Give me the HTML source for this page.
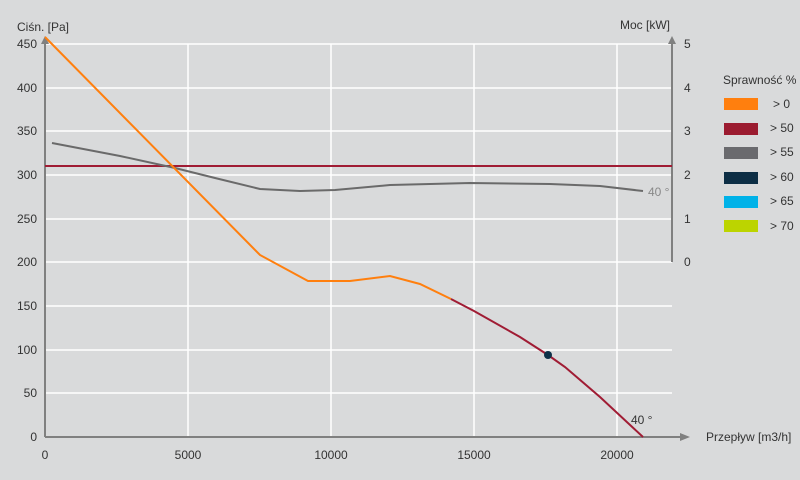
<!DOCTYPE html>
<html><head><meta charset="utf-8"><style>
body{margin:0;background:#d9d9d9;}
svg{display:block;font-family:"Liberation Sans",sans-serif;}
</style></head><body>
<svg width="800" height="480" viewBox="0 0 800 480">
<rect width="800" height="480" fill="#d9dadb"/>
<g stroke="#ffffff" stroke-width="1.5">
<line x1="45" y1="44" x2="672" y2="44"/>
<line x1="45" y1="88" x2="672" y2="88"/>
<line x1="45" y1="131" x2="672" y2="131"/>
<line x1="45" y1="175" x2="672" y2="175"/>
<line x1="45" y1="219" x2="672" y2="219"/>
<line x1="45" y1="262" x2="672" y2="262"/>
<line x1="45" y1="306" x2="672" y2="306"/>
<line x1="45" y1="350" x2="672" y2="350"/>
<line x1="45" y1="393" x2="672" y2="393"/>
<line x1="188" y1="44" x2="188" y2="437"/>
<line x1="331" y1="44" x2="331" y2="437"/>
<line x1="474" y1="44" x2="474" y2="437"/>
<line x1="617" y1="44" x2="617" y2="437"/>
</g>
<g stroke="#808080" stroke-width="2" fill="#808080">
<line x1="45" y1="437" x2="45" y2="42"/>
<polygon points="41,44 49,44 45,36" stroke="none"/>
<line x1="672" y1="262" x2="672" y2="42"/>
<polygon points="668,44 676,44 672,36" stroke="none"/>
<line x1="45" y1="437" x2="682" y2="437"/>
<polygon points="680,433 680,441 690,437" stroke="none"/>
</g>
<g font-size="12" fill="#333" text-anchor="end">
<text x="37" y="48">450</text><text x="37" y="92">400</text><text x="37" y="135">350</text>
<text x="37" y="179">300</text><text x="37" y="223">250</text><text x="37" y="266">200</text>
<text x="37" y="310">150</text><text x="37" y="354">100</text><text x="37" y="397">50</text>
<text x="37" y="441">0</text>
</g>
<g font-size="12" fill="#333">
<text x="684" y="48">5</text><text x="684" y="92">4</text><text x="684" y="135">3</text>
<text x="684" y="179">2</text><text x="684" y="223">1</text><text x="684" y="266">0</text>
</g>
<g font-size="12" fill="#333" text-anchor="middle">
<text x="45" y="459">0</text><text x="188" y="459">5000</text><text x="331" y="459">10000</text>
<text x="474" y="459">15000</text><text x="617" y="459">20000</text>
</g>
<text x="17" y="31" font-size="12" fill="#333">Ciśn. [Pa]</text>
<text x="620" y="29" font-size="12" fill="#333">Moc [kW]</text>
<text x="706" y="441" font-size="12" fill="#333">Przepływ [m3/h]</text>
<line x1="45" y1="166" x2="672" y2="166" stroke="#a01c34" stroke-width="2"/>
<polyline fill="none" stroke="#6a6a6a" stroke-width="2" points="52,143 120,156 175,168 215,178 260,189 300,191 335,190 390,185 470,183 550,184 600,186 643,191"/>
<text x="648" y="196" font-size="12" fill="#888">40 °</text>
<polyline fill="none" stroke="#ff7f0e" stroke-width="2" points="45,37 260,255 308,281 350,281 390,276 420,284 451,299"/>
<polyline fill="none" stroke="#a01c34" stroke-width="2" points="451,299 474,311 520,337 548,355 565,367 600,397 643,437"/>
<circle cx="548" cy="355" r="4" fill="#0d3048"/>
<text x="631" y="424" font-size="12" fill="#333">40 °</text>
<text x="723" y="84" font-size="12" fill="#333">Sprawność %</text>
<rect x="724" y="98" width="34" height="12" fill="#ff7f0e"/>
<rect x="724" y="123" width="34" height="12" fill="#9b1b30"/>
<rect x="724" y="147" width="34" height="12" fill="#6a6a6e"/>
<rect x="724" y="172" width="34" height="12" fill="#0d2e45"/>
<rect x="724" y="196" width="34" height="12" fill="#00b2e8"/>
<rect x="724" y="220" width="34" height="12" fill="#bcd400"/>
<g font-size="12" fill="#333">
<text x="773" y="108">&gt; 0</text><text x="770" y="132">&gt; 50</text><text x="770" y="156">&gt; 55</text>
<text x="770" y="181">&gt; 60</text><text x="770" y="205">&gt; 65</text><text x="770" y="230">&gt; 70</text>
</g>
</svg>
</body></html>
